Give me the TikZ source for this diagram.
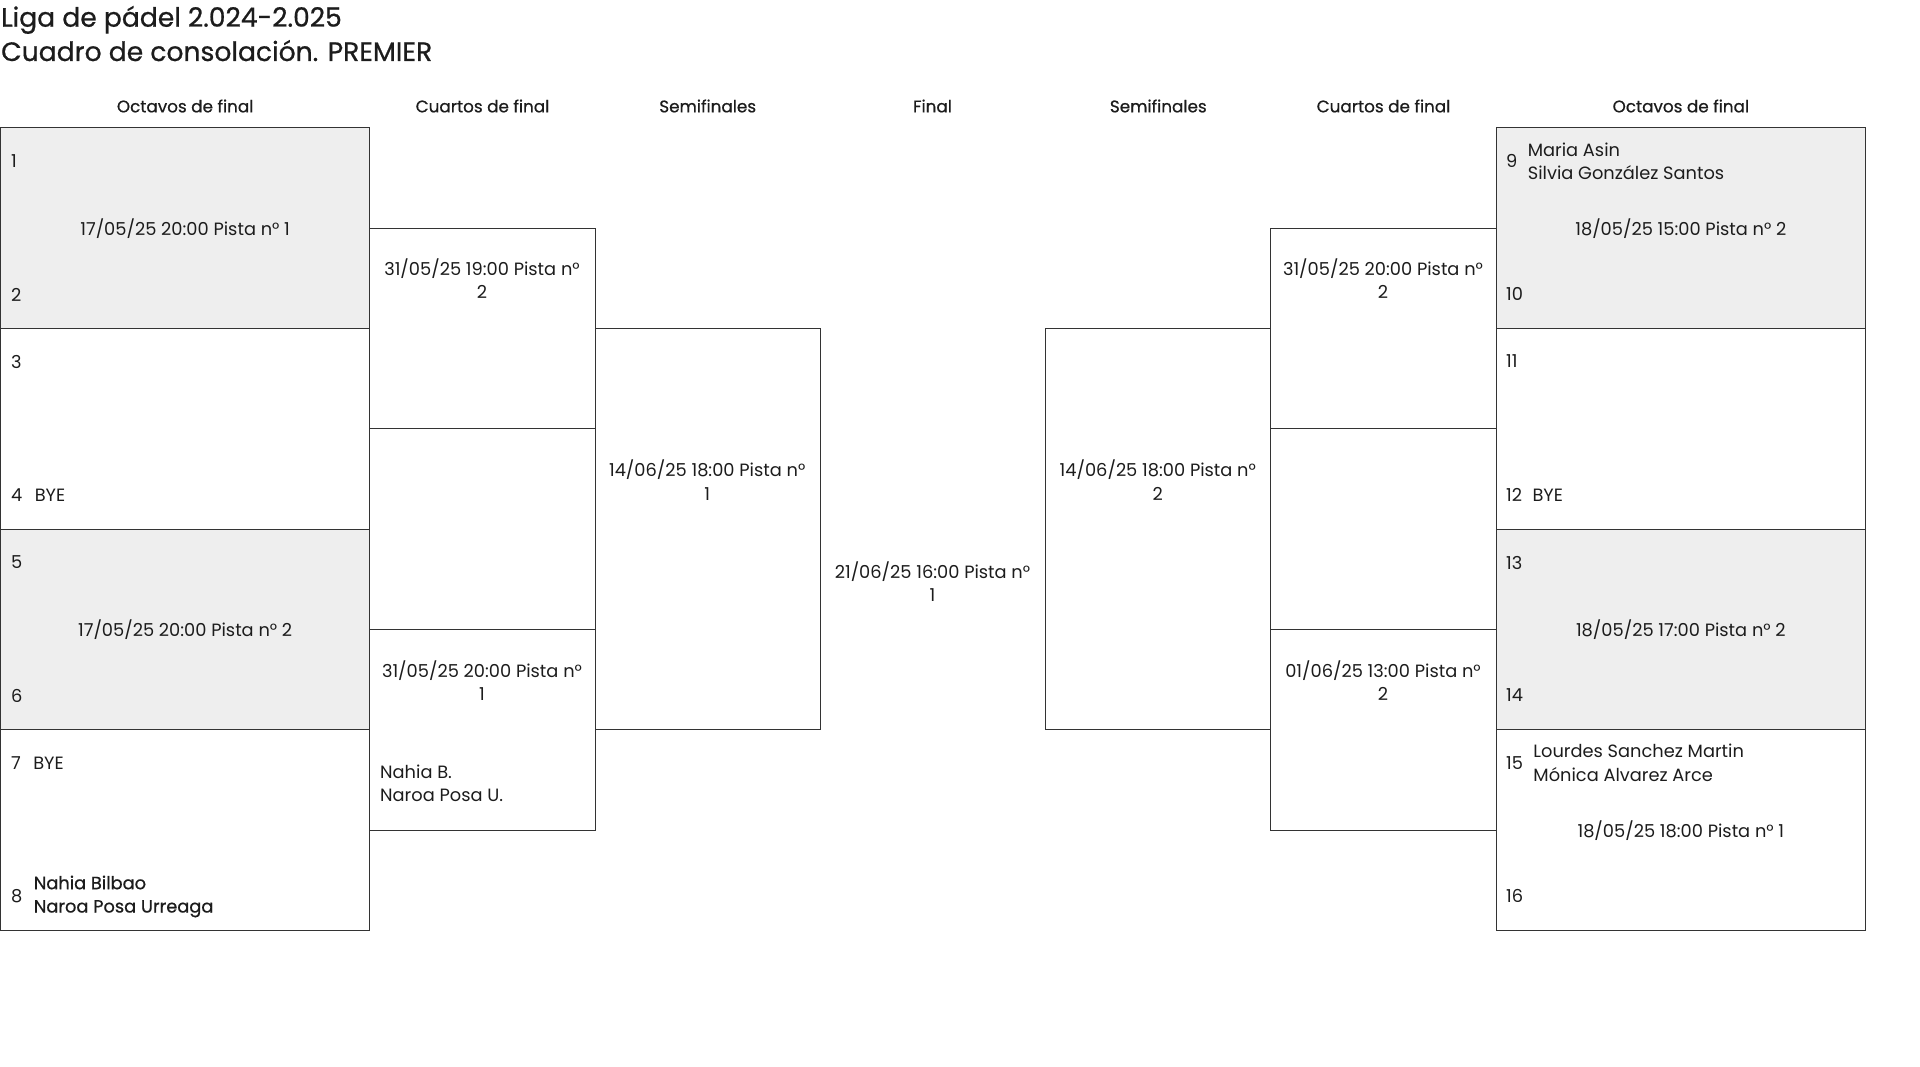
\documentclass[tikz,border=0pt]{standalone}
\usepackage{fontspec}
\setmainfont{Poppins}
\newfontfamily\medfont[FakeBold=0.7]{Poppins}
\usepackage{tikz}
\usetikzlibrary{positioning}
\definecolor{linegray}{HTML}{333333}
\definecolor{boxgray}{HTML}{EEEEEE}
\definecolor{txtgray}{HTML}{1C1C1C}
\tikzset{
  oct/.style={minimum width=369.3pt,minimum height=200.7pt},
  qf/.style={minimum width=225.4pt,minimum height=200.7pt},
  sf/.style={minimum width=225pt,minimum height=401.4pt},
  grayfill/.style={fill=boxgray},
  txt/.style={text=txtgray,inner sep=0pt,font=\fontsize{17.8}{23.3}\selectfont},
  head/.style={txt,font=\medfont\fontsize{16.8}{23.3}\selectfont},
  title/.style={txt,anchor=base west,font=\medfont\fontsize{26.6}{30}\selectfont}
}

\begin{document}
\begin{tikzpicture}[x=1pt,y=-1pt]
	\useasboundingbox (0,0) rectangle (1920,1067);

	\node[title] (t1) at (1,26.7) {Liga de pádel 2.024-2.025};
	\node[title] (t2) at (1,61) {Cuadro de consolación. PREMIER};

	\begin{scope}[every node/.style={draw=linegray,line width=1pt,anchor=north west,inner sep=0pt}]
	    \node[oct,grayfill] (O1) at (0,127.3) {};
	    \node[oct] (O2) at (0,328) {};
	    \node[oct,grayfill] (O3) at (0,528.7) {};
	    \node[oct] (O4) at (0,729.4) {};
	    \node[qf] (C1) at (369.3,227.65) {};
	    \node[qf] (C2) at (369.3,629) {};
	    \node[sf] (S1) at (594.7,328) {};
	    \node[sf] (S2) at (1045.3,328) {};
	    \node[qf] (C3) at (1270.3,227.65) {};
	    \node[qf] (C4) at (1270.3,629) {};
	    \node[oct,grayfill] (O5) at (1495.7,127.3) {};
	    \node[oct] (O6) at (1495.7,328) {};
	    \node[oct,grayfill] (O7) at (1495.7,528.7) {};
	    \node[oct] (O8) at (1495.7,729.4) {};
	\end{scope}

	\coordinate (hd) at (0,106);
	\coordinate (fin) at (932.5,581.7);
	\begin{scope}[every node/.style={head}]
	    \node (h1) at (O1.north |- hd) {Octavos de final};
	    \node (h2) at (C1.north |- hd) {Cuartos de final};
	    \node (h3) at (S1.north |- hd) {Semifinales};
	    \node (h4) at (fin |- hd) {Final};
	    \node (h5) at (S2.north |- hd) {Semifinales};
	    \node (h6) at (C3.north |- hd) {Cuartos de final};
	    \node (h7) at (O5.north |- hd) {Octavos de final};
	\end{scope}

	\begin{scope}[every node/.style={txt}]
	    % left side
	    \node[anchor=west] (s1) at (11,160.8) {1};
	    \node (d1) at (O1.center) {17/05/25 20:00 Pista n° 1};
	    \node[anchor=west] (s2) at (11,294.5) {2};
	    \node[anchor=west] (s3) at (11,361.7) {3};
	    \node[anchor=west] (s4) at (11,495) {4};
	    \node[right=12pt of s4] (p4) {BYE};
	    \node[anchor=west] (s5) at (11,562.5) {5};
	    \node (d3) at (O3.center) {17/05/25 20:00 Pista n° 2};
	    \node[anchor=west] (s6) at (11,695.5) {6};
	    \node[anchor=west] (s7) at (11,763.2) {7};
	    \node[right=12pt of s7] (p7) {BYE};
	    \node[anchor=west] (s8) at (11,896.5) {8};
	    \node[right=11pt of s8,align=left,font=\medfont\fontsize{17.8}{23.3}\selectfont] (p8) {Nahia Bilbao\\Naroa Posa Urreaga};
	    \node[align=center] (q1) at (482,278.4) {31/05/25 19:00 Pista n°\\2};
	    \node[align=center] (q2) at (482,680.5) {31/05/25 20:00 Pista n°\\1};
	    \node[align=left,anchor=west] (w2) at (380,783.3) {Nahia B.\\Naroa Posa U.};
	    \node[align=center] (m1) at (707.2,480) {14/06/25 18:00 Pista n°\\1};
	    % final
	    \node[align=center] (f) at (fin) {21/06/25 16:00 Pista n°\\1};
	    % right side
	    \node[align=center] (m2) at (1157.8,480) {14/06/25 18:00 Pista n°\\2};
	    \node[align=center] (q3) at (1383,278.4) {31/05/25 20:00 Pista n°\\2};
	    \node[align=center] (q4) at (1383,680.5) {01/06/25 13:00 Pista n°\\2};
	    \node[anchor=west] (s9) at (1506,161) {9};
	    \node[right=10pt of s9,align=left] (p9) {Maria Asin\\Silvia González Santos};
	    \node (d5) at (O5.center) {18/05/25 15:00 Pista n° 2};
	    \node[anchor=west] (s10) at (1506,294) {10};
	    \node[anchor=west] (s11) at (1506,361.5) {11};
	    \node[anchor=west] (s12) at (1506,495) {12};
	    \node[right=10pt of s12] (p12) {BYE};
	    \node[anchor=west] (s13) at (1506,562.5) {13};
	    \node (d7) at (O7.center) {18/05/25 17:00 Pista n° 2};
	    \node[anchor=west] (s14) at (1506,695) {14};
	    \node[anchor=west] (s15) at (1506,762.9) {15};
	    \node[right=10pt of s15,align=left] (p15) {Lourdes Sanchez Martin\\Mónica Alvarez Arce};
	    \node (d8) at (O8.center) {18/05/25 18:00 Pista n° 1};
	    \node[anchor=west] (s16) at (1506,896) {16};
	\end{scope}
\end{tikzpicture}
\end{document}
